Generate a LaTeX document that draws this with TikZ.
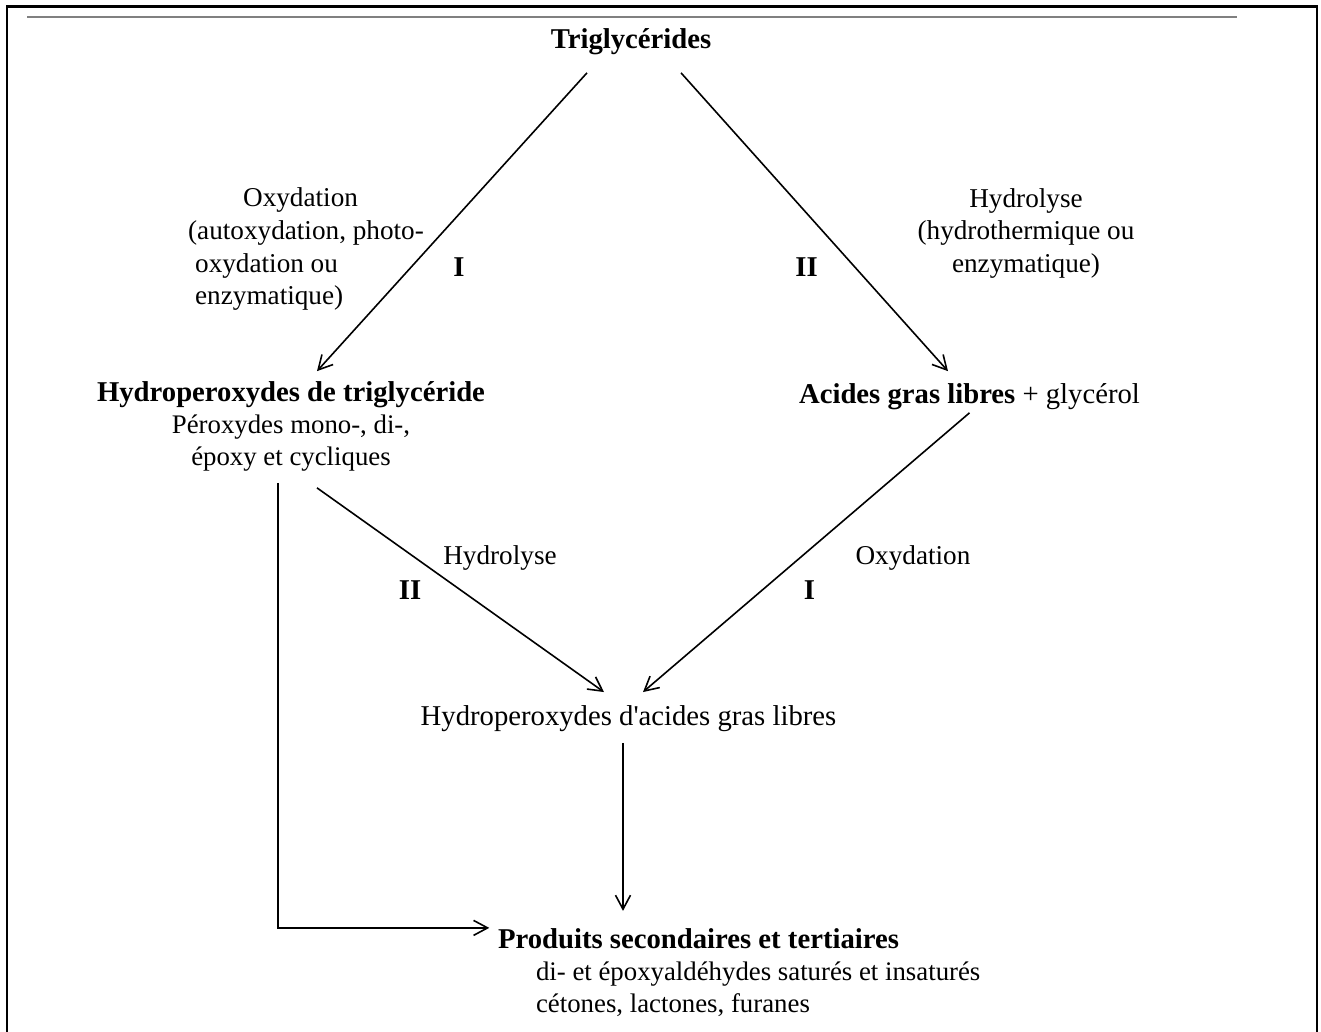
\documentclass[tikz,border=0pt]{standalone}
\usepackage{fontspec}
\setmainfont{Liberation Serif}
\usetikzlibrary{positioning,arrows.meta}

\newcommand{\mainsize}{\fontsize{14.35pt}{16pt}\selectfont}
\newcommand{\labsize}{\fontsize{13.6pt}{16.35pt}\selectfont}
\newcommand{\subtxt}[1]{{\fontsize{13.4pt}{16pt}\selectfont\mdseries #1}}

\begin{document}
\begin{tikzpicture}[>={Straight Barb[length=7pt,width=7.5pt]},line width=0.8pt,on grid,
  every node/.style={inner sep=0pt},
  chem/.style={font=\mainsize\bfseries},
  lab/.style={font=\labsize},
  num/.style={font=\mainsize\bfseries}]
\useasboundingbox (0,0) rectangle (660.5pt,-516pt);
\draw[line width=1.2pt] (3.5pt,-516pt) -- (3.5pt,-3.2pt) -- (658.5pt,-3.2pt) -- (658.5pt,-516pt);
\draw[line width=1pt,gray] (13.5pt,-8.5pt) -- (618.5pt,-8.5pt);

\node[chem] (trig) at (315.5pt,-20.8pt) {Triglycérides};
\node[chem,align=center] (hptg) [below left=192.55pt and 170pt of trig] {Hydroperoxydes de triglycéride\\\subtxt{Péroxydes mono-, di-,}\\\subtxt{époxy et cycliques}};
\node[chem] (agl) [below right=177.4pt and 169.25pt of trig] {Acides gras libres {\mdseries + glycérol}};
\node[font=\mainsize] (hpagl) [below right=145.8pt and 168.75pt of hptg] {Hydroperoxydes d\textquotesingle acides gras libres};
\node[font=\mainsize,align=left] (prod) [below right=127.2pt and 55.35pt of hpagl] {\textbf{Produits secondaires et tertiaires}\\\hspace*{19pt}\subtxt{di- et époxyaldéhydes saturés et insaturés}\\\hspace*{19pt}\subtxt{cétones, lactones, furanes}};

\node[lab,align=left] (oxlab) [above right=88.65pt and 7.5pt of hptg] {\hspace*{27.5pt}Oxydation\\(autoxydation, photo-\\\hspace*{3.5pt}oxydation ou\\\hspace*{3.5pt}enzymatique)};
\node[lab,align=center] (hylab) [above right=81.6pt and 28.25pt of agl] {Hydrolyse\\(hydrothermique ou\\enzymatique)};
\node[num] (i1) [below left=112.95pt and 86pt of trig] {I};
\node[num] (ii1) [below right=112.95pt and 87.75pt of trig] {II};
\node[lab] (hylab2) [above left=80.35pt and 64.25pt of hpagl] {Hydrolyse};
\node[num] (ii2) [above left=64.15pt and 109.25pt of hpagl] {II};
\node[lab] (oxlab2) [above right=80.35pt and 142.25pt of hpagl] {Oxydation};
\node[num] (i2) [above right=64.15pt and 90.5pt of hpagl] {I};

\path[->]
([shift={(-22pt,-8.65pt)}]trig.south) edge ([shift={(13pt,4.95pt)}]hptg.north)
([shift={(25pt,-8.65pt)}]trig.south) edge ([shift={(-10.75pt,5.65pt)}]agl.north)
([shift={(13pt,-7.75pt)}]hptg.south) edge ([shift={(-12.25pt,6.2pt)}]hpagl.north)
([yshift=-1.25pt]agl.south) edge ([shift={(7.25pt,6.2pt)}]hpagl.north)
([shift={(-2.75pt,-5.4pt)}]hpagl.south) edge ([shift={(-2.75pt,8.5pt)}]prod.north -| hpagl.south)
;
\draw[->] ([shift={(-6.5pt,-5.25pt)}]hptg.south) |- ([xshift=-4pt]prod.north west);
\end{tikzpicture}
\end{document}
